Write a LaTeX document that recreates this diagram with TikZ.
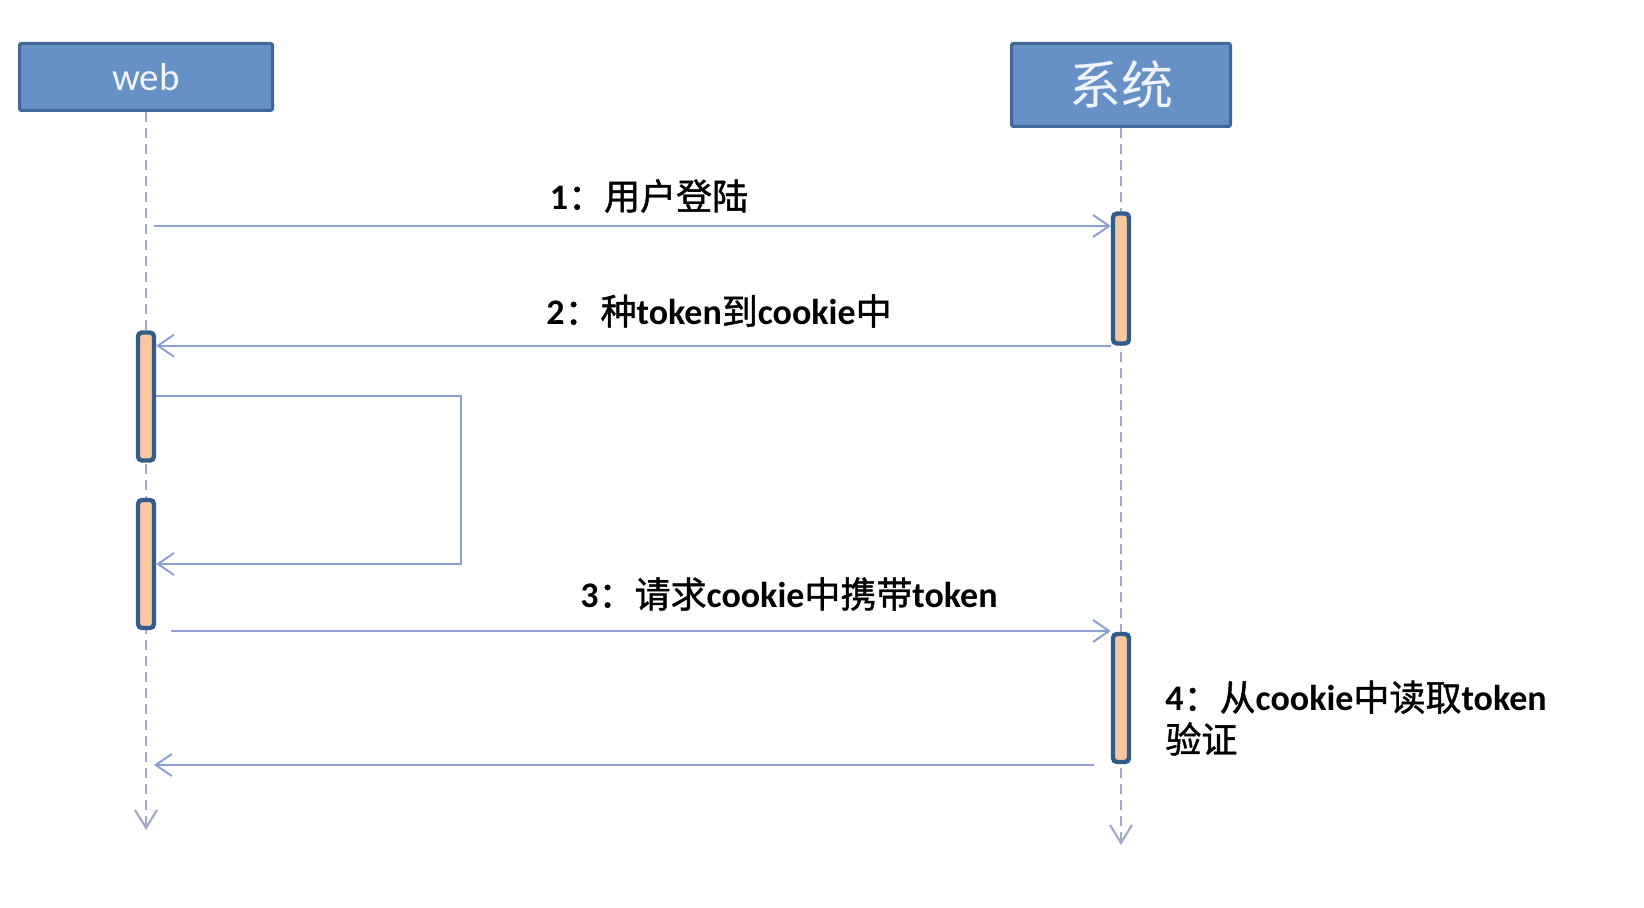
\documentclass[tikz,border=0pt]{standalone}
\usepackage{fontspec}
\setmainfont{Carlito}
\newfontfamily\zhfont{Noto Sans CJK SC}[BoldFont={Noto Sans CJK SC}, BoldFeatures={FakeBold=1.2}]
\newcommand{\zh}[1]{{\zhfont #1}}
\usetikzlibrary{arrows.meta}
\definecolor{actorfill}{HTML}{6690C6}
\definecolor{actorline}{HTML}{3F6797}
\definecolor{actortext}{HTML}{F0F4FA}
\definecolor{barfill}{HTML}{F6C8A2}
\definecolor{barline}{HTML}{2F5C89}
\definecolor{msgcol}{HTML}{8C9FD2}
\definecolor{lifecol}{HTML}{A4ABC6}

\begin{document}
\begin{tikzpicture}[x=0.5pt, y=-0.5pt,
  actor/.style={draw=actorline, fill=actorfill, line width=1.5pt, text=actortext,
    rounded corners=1pt, inner sep=0pt},
  bar/.style={draw=barline, fill=barfill, line width=2.2pt, rounded corners=2pt,
    minimum width=8pt, minimum height=#1, inner sep=0pt},
  msg/.style={-{Straight Barb[length=8pt,width=11pt]}, draw=msgcol, line width=1pt},
  lifeline/.style={-{Straight Barb[length=9pt,width=11pt]}, draw=lifecol, line width=1.1pt,
    dash pattern=on 5pt off 3pt},
  msglabel/.style={font=\fontsize{18}{21}\selectfont\bfseries, inner sep=0pt, align=left}
]
\useasboundingbox (0,0) rectangle (1644,908);
% actors
\node[actor, minimum width=126.5pt, minimum height=33.5pt,
  font=\fontsize{19.5}{22}\selectfont] (web) at (146,77) {web};
\node[actor, minimum width=109.5pt, minimum height=41.5pt,
  font=\zhfont\fontsize{26}{30}\selectfont] (sys) at (1121,85) {系统};
% lifelines
\coordinate (webend) at (0,830);
\coordinate (sysend) at (0,845);
\draw[lifeline] (web.south) -- (web.south |- webend);
\draw[lifeline] (sys.south) -- (sys.south |- sysend);
% activation bars
\node[bar=64pt] (webA) at (146,396.5) {};
\node[bar=64pt] (webB) at (146,564) {};
\node[bar=65pt] (sysA) at (1121,278.5) {};
\node[bar=64pt] (sysB) at (1121,698) {};
% messages
\coordinate (m1) at (154,226);
\draw[msg] (m1) -- (m1 -| sysA.west);
\draw[msg] (sysA.south west) -- (sysA.south west -| webA.east);
\coordinate (loop) at (461,396);
\draw[msg] (webA.east |- loop) -- (loop) |- (webB.east);
\coordinate (m3) at (171,631);
\draw[msg] (m3) -- (m3 -| sysB.west);
\coordinate (m4) at (1094,765);
\coordinate (m4end) at (154,765);
\draw[msg] (m4) -- (m4end);
% labels
\node[msglabel] (l1) at (649,196) {1\zh{：用户登陆}};
\node[msglabel] (l2) at (719,311) {2\zh{：种}token\zh{到}cookie\zh{中}};
\node[msglabel] (l3) at (789,594) {3\zh{：请求}cookie\zh{中携带}token};
\node[msglabel, anchor=west] (l4) at (1165,718) {4\zh{：从}cookie\zh{中读取}token\\\zh{验证}};
\end{tikzpicture}
\end{document}
